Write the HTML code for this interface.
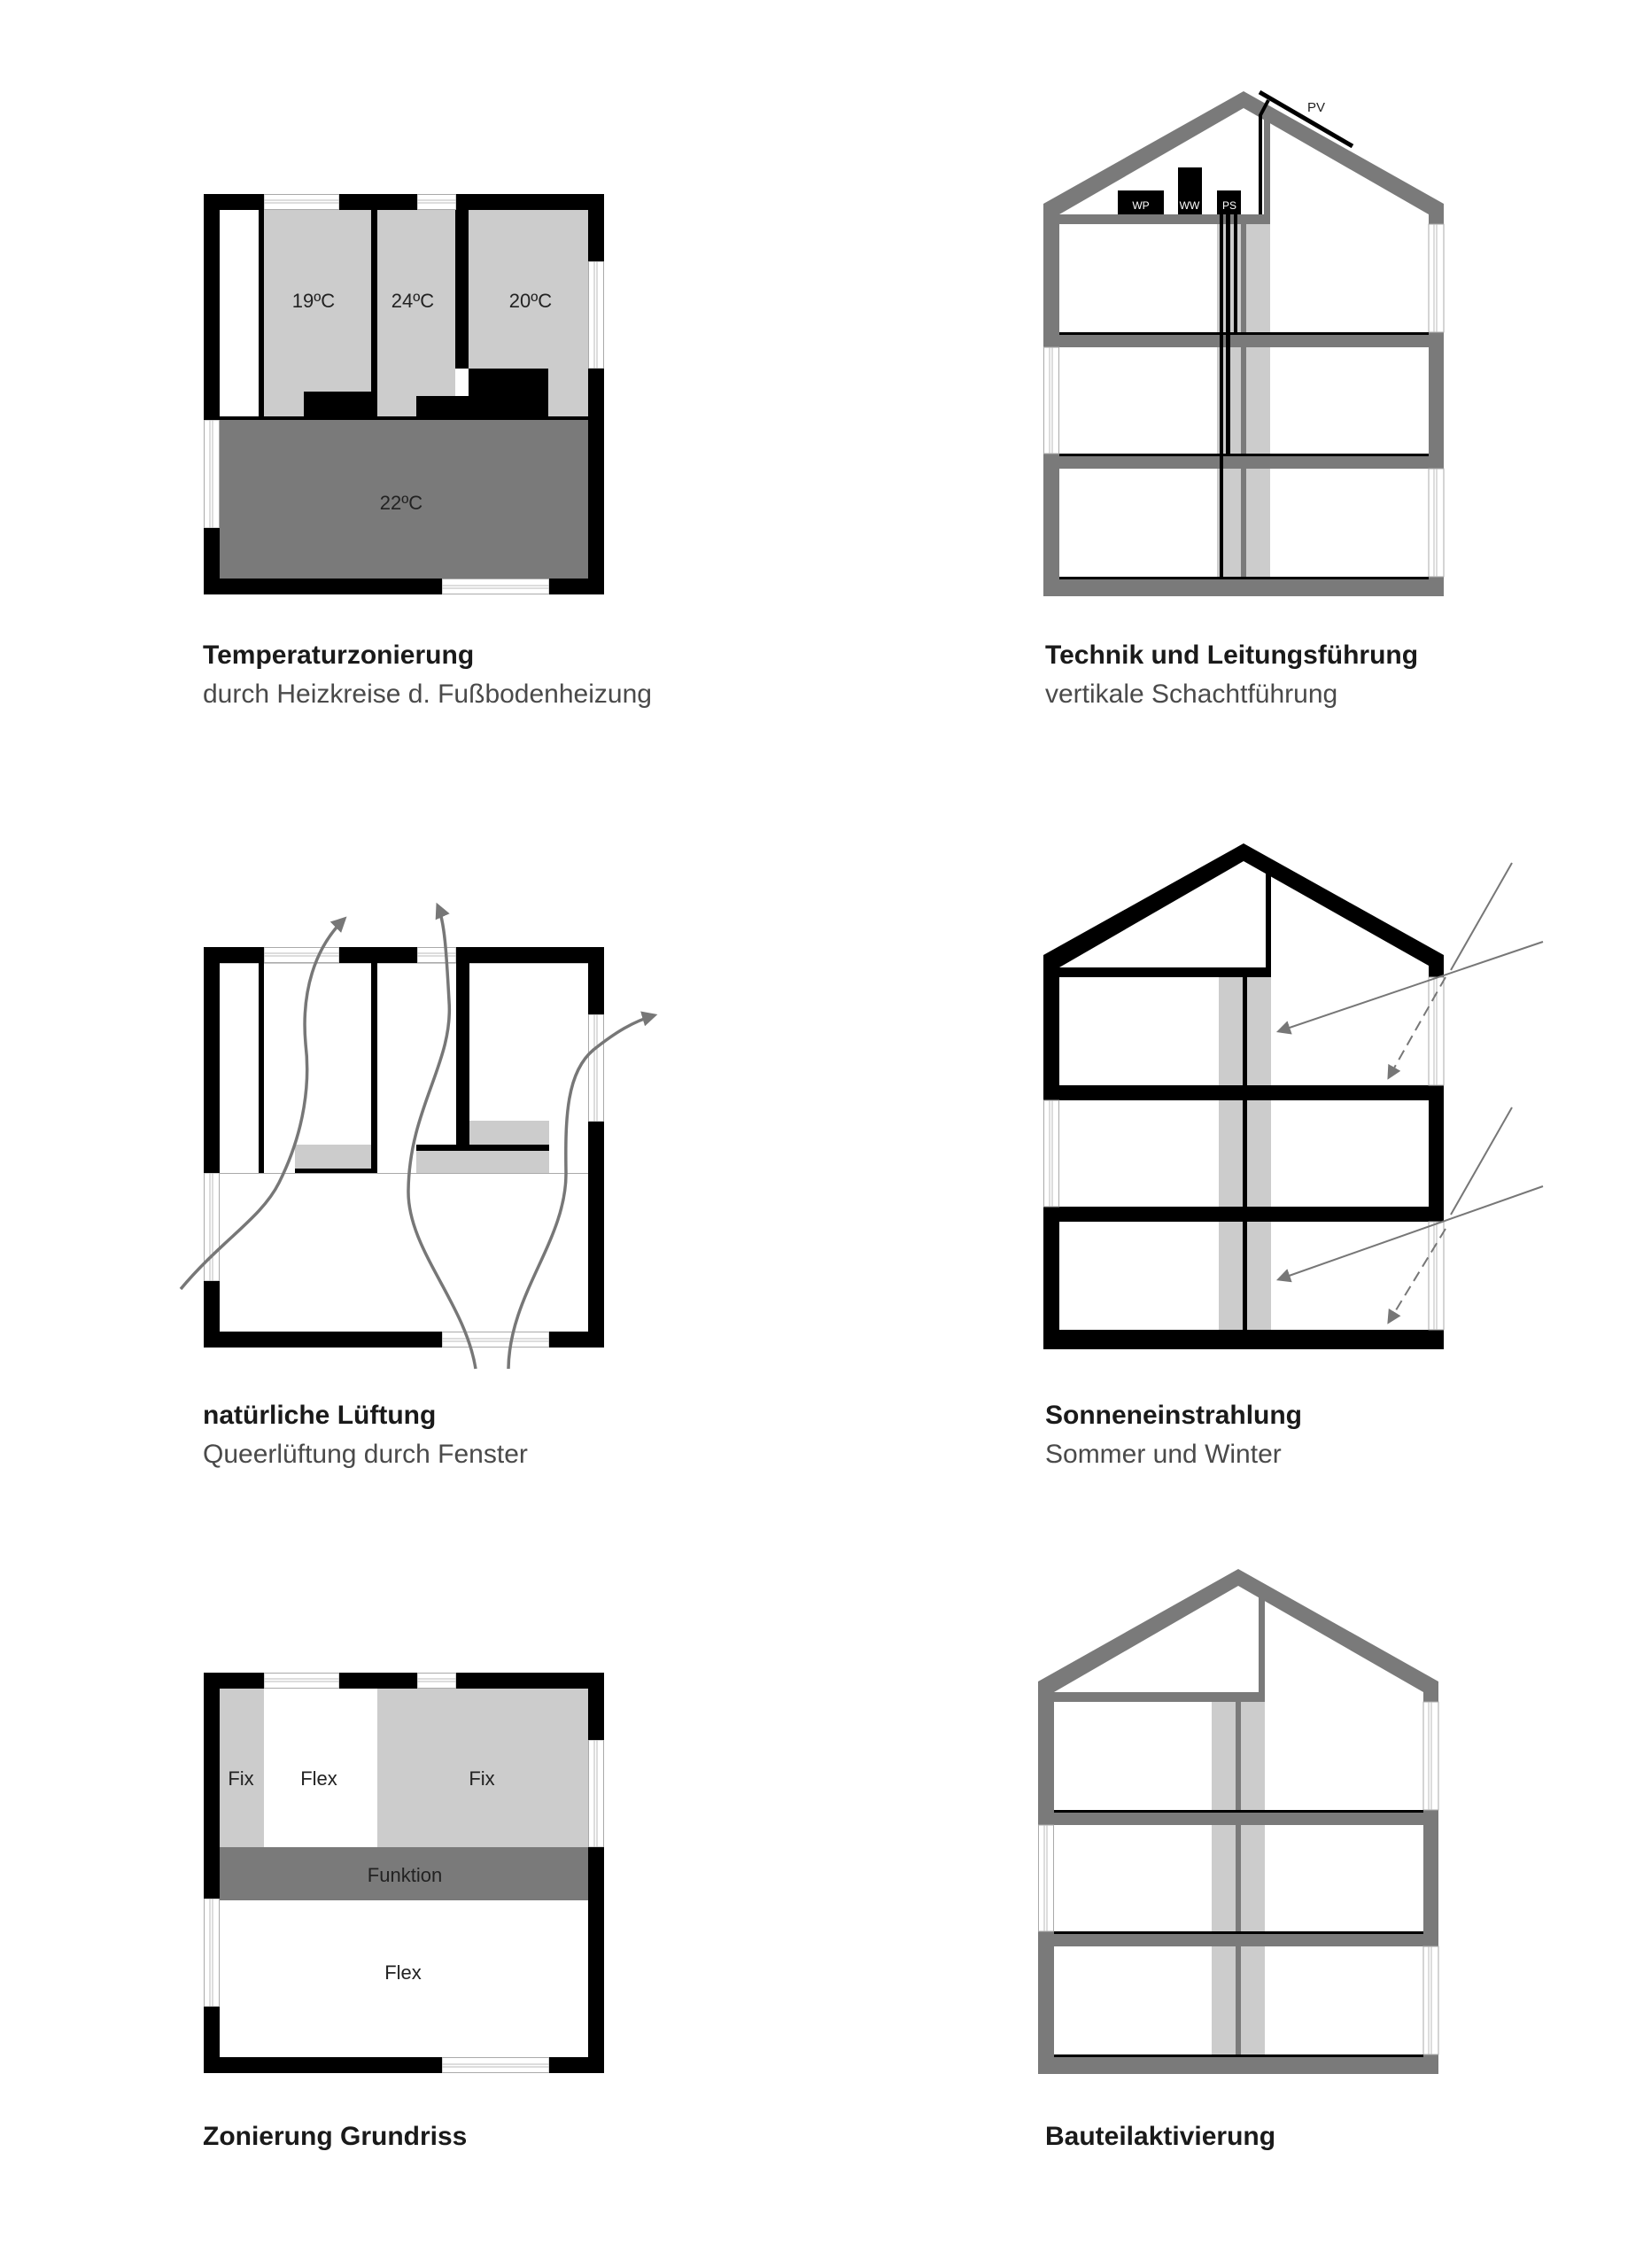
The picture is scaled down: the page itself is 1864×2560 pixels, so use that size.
<!DOCTYPE html>
<html><head><meta charset="utf-8"><style>
html,body{margin:0;padding:0;background:#fff;}
svg{display:block;}
.t{font-family:"Liberation Sans",sans-serif;font-weight:bold;font-size:30px;fill:#1a1a1a;}
.s{font-family:"Liberation Sans",sans-serif;font-size:30px;fill:#4a4a4a;}
.l{font-family:"Liberation Sans",sans-serif;font-size:22px;fill:#222;text-anchor:middle;}
.w{font-family:"Liberation Sans",sans-serif;font-size:12px;fill:#fff;text-anchor:middle;}
</style></head><body>
<svg width="1864" height="2560" viewBox="0 0 1864 2560" xmlns="http://www.w3.org/2000/svg">
<defs>
  <g id="hwin"><rect x="0" y="0" width="1" height="18" fill="#fff"/></g>
  <marker id="ah" viewBox="0 0 10 10" refX="8" refY="5" markerWidth="5" markerHeight="5" orient="auto" markerUnits="strokeWidth">
    <path d="M0,0 L10,5 L0,10 z" fill="#777"/>
  </marker>
  <marker id="ah2" viewBox="0 0 10 10" refX="8" refY="5" markerWidth="8" markerHeight="8" orient="auto" markerUnits="strokeWidth">
    <path d="M0,0 L10,5 L0,10 z" fill="#777"/>
  </marker>
  <!-- plan shell -->
  <g id="shell">
    <!-- windows -->
    <g fill="#fff" stroke="#aaa" stroke-width="1">
      <rect x="298" y="219.5" width="85" height="17"/>
      <rect x="471" y="219.5" width="44" height="17"/>
      <rect x="499" y="653.5" width="121" height="17"/>
      <rect x="664.5" y="295" width="17" height="121"/>
      <rect x="230.5" y="474" width="17" height="122"/>
    </g>
    <g stroke="#bbb" stroke-width="1">
      <line x1="298" y1="226" x2="383" y2="226"/><line x1="298" y1="229" x2="383" y2="229"/>
      <line x1="471" y1="226" x2="515" y2="226"/><line x1="471" y1="229" x2="515" y2="229"/>
      <line x1="499" y1="661" x2="620" y2="661"/><line x1="499" y1="664" x2="620" y2="664"/>
      <line x1="671" y1="295" x2="671" y2="416"/><line x1="674" y1="295" x2="674" y2="416"/>
      <line x1="237" y1="474" x2="237" y2="596"/><line x1="240" y1="474" x2="240" y2="596"/>
    </g>
    <g fill="#000">
      <rect x="230" y="219" width="68" height="18"/>
      <rect x="383" y="219" width="88" height="18"/>
      <rect x="515" y="219" width="167" height="18"/>
      <rect x="664" y="219" width="18" height="76"/>
      <rect x="664" y="416" width="18" height="255"/>
      <rect x="230" y="219" width="18" height="255"/>
      <rect x="230" y="596" width="18" height="75"/>
      <rect x="230" y="653" width="269" height="18"/>
      <rect x="620" y="653" width="62" height="18"/>
    </g>
  </g>
  <!-- section windows (vertical) -->
  <g id="vwinR1">
    <rect x="1613" y="253" width="17" height="122" fill="#fff" stroke="#aaa" stroke-width="1"/>
    <line x1="1619" y1="253" x2="1619" y2="375" stroke="#bbb"/><line x1="1622" y1="253" x2="1622" y2="375" stroke="#bbb"/>
  </g>
  <g id="vwinL2">
    <rect x="1178.5" y="392" width="17" height="120" fill="#fff" stroke="#aaa" stroke-width="1"/>
    <line x1="1185" y1="392" x2="1185" y2="512" stroke="#bbb"/><line x1="1188" y1="392" x2="1188" y2="512" stroke="#bbb"/>
  </g>
  <g id="vwinR3">
    <rect x="1613" y="529" width="17" height="122" fill="#fff" stroke="#aaa" stroke-width="1"/>
    <line x1="1619" y1="529" x2="1619" y2="651" stroke="#bbb"/><line x1="1622" y1="529" x2="1622" y2="651" stroke="#bbb"/>
  </g>
</defs>

<!-- ============ PLAN 1 ============ -->
<g>
  <rect x="298" y="237" width="121" height="233" fill="#ccc"/>
  <rect x="426" y="237" width="44" height="233" fill="#ccc"/>
  <rect x="470" y="237" width="44" height="210" fill="#ccc"/>
  <rect x="529" y="237" width="135" height="179" fill="#ccc"/>
  <rect x="619" y="416" width="45" height="54" fill="#ccc"/>
  <rect x="292" y="237" width="6" height="233" fill="#000"/>
  <rect x="419" y="237" width="7" height="233" fill="#000"/>
  <rect x="514" y="237" width="15" height="179" fill="#000"/>
  <rect x="343" y="442" width="76" height="28" fill="#000"/>
  <rect x="470" y="447" width="149" height="23" fill="#000"/>
  <rect x="529" y="416" width="90" height="31" fill="#000"/>
  <rect x="248" y="470" width="416" height="4" fill="#000"/>
  <rect x="248" y="474" width="416" height="179" fill="#7a7a7a"/>
  <use href="#shell"/>
  <text class="l" x="354" y="347">19ºC</text>
  <text class="l" x="466" y="347">24ºC</text>
  <text class="l" x="599" y="347">20ºC</text>
  <text class="l" x="453" y="575">22ºC</text>
  <text class="t" x="229" y="749">Temperaturzonierung</text>
  <text class="s" x="229" y="793">durch Heizkreise d. Fußbodenheizung</text>
</g>

<!-- ============ SECTION 1 ============ -->
<g>
  <rect x="1374" y="253" width="27" height="398" fill="#ccc"/>
  <rect x="1407" y="253" width="27" height="398" fill="#ccc"/>
  <rect x="1401" y="253" width="6" height="398" fill="#7a7a7a"/>
  <polygon points="1178,230 1404,103 1630,230 1630,253 1613,253 1613,242 1404,122 1196,242 1196,253 1178,253" fill="#7a7a7a"/>
  <rect x="1178" y="240" width="18" height="152" fill="#7a7a7a"/>
  <rect x="1178" y="512" width="18" height="161" fill="#7a7a7a"/>
  <rect x="1613" y="375" width="17" height="154" fill="#7a7a7a"/>
  <rect x="1613" y="651" width="17" height="22" fill="#7a7a7a"/>
  <rect x="1196" y="242" width="238" height="11" fill="#7a7a7a"/>
  <rect x="1427" y="132" width="7" height="121" fill="#7a7a7a"/>
  <rect x="1178" y="375" width="452" height="17" fill="#7a7a7a"/>
  <rect x="1178" y="512" width="452" height="17" fill="#7a7a7a"/>
  <rect x="1178" y="651" width="452" height="22" fill="#7a7a7a"/>
  <use href="#vwinR1"/><use href="#vwinL2"/><use href="#vwinR3"/>
  <rect x="1196" y="375" width="417" height="3" fill="#000"/>
  <rect x="1196" y="512" width="417" height="3" fill="#000"/>
  <rect x="1196" y="651" width="417" height="3" fill="#000"/>
  <rect x="1377" y="242" width="4" height="412" fill="#000"/>
  <rect x="1384" y="242" width="5" height="272" fill="#000"/>
  <rect x="1393" y="242" width="4" height="135" fill="#000"/>
  <rect x="1262" y="215" width="52" height="27" fill="#000"/>
  <rect x="1330" y="189" width="27" height="53" fill="#000"/>
  <rect x="1374" y="215" width="27" height="27" fill="#000"/>
  <text class="w" x="1288" y="236">WP</text>
  <text class="w" x="1343" y="236">WW</text>
  <text class="w" x="1388" y="236">PS</text>
  <polyline points="1423,242 1423,130 1432,113" fill="none" stroke="#000" stroke-width="4"/>
  <line x1="1422" y1="104" x2="1527" y2="165" stroke="#000" stroke-width="5"/>
  <text x="1486" y="126" style="font-family:'Liberation Sans',sans-serif;font-size:15px;fill:#222" text-anchor="middle">PV</text>
  <text class="t" x="1180" y="749">Technik und Leitungsführung</text>
  <text class="s" x="1180" y="793">vertikale Schachtführung</text>
</g>

<!-- ============ PLAN 2 ============ -->
<g>
  <g transform="translate(0,850)">
    <line x1="248" y1="474.5" x2="664" y2="474.5" stroke="#aaa" stroke-width="1"/>
    <line x1="248" y1="237.5" x2="664" y2="237.5" stroke="#ccc" stroke-width="1"/>
    <rect x="292" y="237" width="6" height="237" fill="#000"/>
    <rect x="419" y="237" width="7" height="237" fill="#000"/>
    <rect x="333" y="442" width="86" height="27" fill="#ccc"/>
    <rect x="333" y="469" width="93" height="5" fill="#000"/>
    <rect x="515" y="237" width="15" height="212" fill="#000"/>
    <rect x="530" y="415" width="90" height="27" fill="#ccc"/>
    <rect x="470" y="442" width="150" height="7" fill="#000"/>
    <rect x="470" y="449" width="150" height="25" fill="#ccc"/>
    <use href="#shell"/>
  </g>
  <g fill="none" stroke="#777" stroke-width="3.5" marker-end="url(#ah)">
    <path d="M204,1455 C 250,1400 295,1375 315,1335 C 345,1275 350,1220 345,1178 C 340,1120 355,1070 389,1037"/>
    <path d="M537,1545 C 525,1470 460,1410 461,1344 C 462,1250 512,1200 507,1130 C 504,1075 502,1040 494,1022"/>
    <path d="M574,1545 C 575,1460 640,1400 639,1323 C 638,1260 640,1210 670,1185 C 695,1165 715,1153 739,1146"/>
  </g>
  <text class="t" x="229" y="1607">natürliche Lüftung</text>
  <text class="s" x="229" y="1651">Queerlüftung durch Fenster</text>
</g>

<!-- ============ SECTION 2 ============ -->
<g>
  <rect x="1376" y="1103" width="59" height="398" fill="#ccc"/>
  <rect x="1403" y="1103" width="5" height="398" fill="#000"/>
  <polygon points="1178,1078 1404,952 1630,1078 1630,1103 1613,1103 1613,1090 1404,972 1196,1092 1196,1103 1178,1103" fill="#000"/>
  <rect x="1178" y="1090" width="18" height="152" fill="#000"/>
  <rect x="1178" y="1362" width="18" height="161" fill="#000"/>
  <rect x="1613" y="1225" width="17" height="154" fill="#000"/>
  <rect x="1196" y="1092" width="239" height="11" fill="#000"/>
  <rect x="1429" y="980" width="6" height="123" fill="#000"/>
  <rect x="1178" y="1225" width="452" height="17" fill="#000"/>
  <rect x="1178" y="1362" width="452" height="17" fill="#000"/>
  <rect x="1178" y="1501" width="452" height="22" fill="#000"/>
  <g transform="translate(0,850)"><use href="#vwinR1"/><use href="#vwinL2"/><use href="#vwinR3"/></g>
  <g stroke="#777" stroke-width="2" fill="none">
    <line x1="1707" y1="974" x2="1638" y2="1095"/>
    <line x1="1742" y1="1063" x2="1444" y2="1164" marker-end="url(#ah2)"/>
    <line x1="1632" y1="1103" x2="1568" y2="1216" stroke-dasharray="12,7" marker-end="url(#ah2)"/>
    <line x1="1707" y1="1250" x2="1638" y2="1371"/>
    <line x1="1742" y1="1339" x2="1444" y2="1444" marker-end="url(#ah2)"/>
    <line x1="1632" y1="1387" x2="1568" y2="1492" stroke-dasharray="12,7" marker-end="url(#ah2)"/>
  </g>
  <text class="t" x="1180" y="1607">Sonneneinstrahlung</text>
  <text class="s" x="1180" y="1651">Sommer und Winter</text>
</g>

<!-- ============ PLAN 3 ============ -->
<g>
  <g transform="translate(0,1669)">
    <rect x="248" y="237" width="50" height="179" fill="#ccc"/>
    <rect x="426" y="237" width="238" height="179" fill="#ccc"/>
    <rect x="248" y="416" width="416" height="60" fill="#7a7a7a"/>
    <use href="#shell"/>
  </g>
  <text class="l" x="272" y="2015">Fix</text>
  <text class="l" x="360" y="2015">Flex</text>
  <text class="l" x="544" y="2015">Fix</text>
  <text class="l" x="457" y="2124">Funktion</text>
  <text class="l" x="455" y="2234">Flex</text>
  <text class="t" x="229" y="2421">Zonierung Grundriss</text>
</g>

<!-- ============ SECTION 3 ============ -->
<g transform="translate(-6,1668)">
  <rect x="1374" y="253" width="27" height="398" fill="#ccc"/>
  <rect x="1407" y="253" width="27" height="398" fill="#ccc"/>
  <rect x="1401" y="253" width="6" height="398" fill="#7a7a7a"/>
  <polygon points="1178,230 1404,103 1630,230 1630,253 1613,253 1613,242 1404,122 1196,242 1196,253 1178,253" fill="#7a7a7a"/>
  <rect x="1178" y="240" width="18" height="152" fill="#7a7a7a"/>
  <rect x="1178" y="512" width="18" height="161" fill="#7a7a7a"/>
  <rect x="1613" y="375" width="17" height="154" fill="#7a7a7a"/>
  <rect x="1613" y="651" width="17" height="22" fill="#7a7a7a"/>
  <rect x="1196" y="242" width="238" height="11" fill="#7a7a7a"/>
  <rect x="1427" y="132" width="7" height="121" fill="#7a7a7a"/>
  <rect x="1178" y="375" width="452" height="17" fill="#7a7a7a"/>
  <rect x="1178" y="512" width="452" height="17" fill="#7a7a7a"/>
  <rect x="1178" y="651" width="452" height="22" fill="#7a7a7a"/>
  <use href="#vwinR1"/><use href="#vwinL2"/><use href="#vwinR3"/>
  <rect x="1196" y="375" width="417" height="3" fill="#000"/>
  <rect x="1196" y="512" width="417" height="3" fill="#000"/>
  <rect x="1196" y="651" width="417" height="3" fill="#000"/>
</g>
<text class="t" x="1180" y="2421">Bauteilaktivierung</text>
</svg>
</body></html>
